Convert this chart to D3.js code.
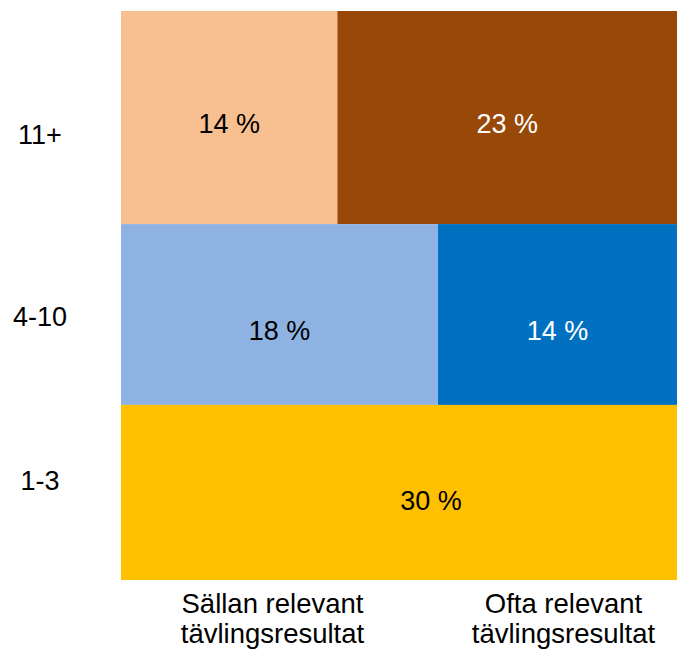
<!DOCTYPE html>
<html>
<head>
<meta charset="utf-8">
<script src="https://cdn.jsdelivr.net/npm/d3@7"></script>
<style>
  html, body { margin: 0; padding: 0; background: #fff; }
  svg { display: block; }
  text { font-family: "Liberation Sans", Arial, sans-serif; }
</style>
</head>
<body>
<svg id="chart" width="677" height="655"></svg>
<script>
// Data (shares in %, estimated from the tile sizes; labels show rounded values)
const rowLabels = ["11+", "4-10", "1-3"];
const colLabels = [["Sällan relevant", "tävlingsresultat"], ["Ofta relevant", "tävlingsresultat"]];
const sallanValues = [14.4, 17.9, 30.4];   // 1-3 row is not split (whole row)
const oftaValues = [22.6, 13.5, 0];
const rowSplit = [true, true, false];
const sallanColors = ["#F8BF91", "#8EB3E2", "#FFC000"];
const oftaColors = ["#984807", "#0070C0", "#FFC000"];
const oftaTextColors = ["#FFFFFF", "#FFFFFF", "#000000"];

const W = 677, H = 655;
const margin = { top: 11, right: 0, bottom: 75, left: 121 };
const svg = d3.select("#chart");

const rowTotals = sallanValues.map((v, i) => v + oftaValues[i]);
const grand = d3.sum(rowTotals);
const cum = [0];
rowTotals.forEach((t, i) => cum.push(cum[i] + t));

const y = d3.scaleLinear().domain([0, grand]).range([margin.top, H - margin.bottom]);
const x = d3.scaleLinear().domain([0, 1]).range([margin.left, W - margin.right]);

const cells = [];
rowLabels.forEach((r, i) => {
  const y0 = y(cum[i]), y1 = y(cum[i + 1]);
  if (rowSplit[i]) {
    const f = sallanValues[i] / rowTotals[i];
    cells.push({ row: i, x0: x(0), x1: x(f), y0, y1, v: sallanValues[i], fill: sallanColors[i], tc: "#000" });
    cells.push({ row: i, x0: x(f), x1: x(1), y0, y1, v: oftaValues[i], fill: oftaColors[i], tc: oftaTextColors[i] });
  } else {
    cells.push({ row: i, x0: x(0), x1: x(1), y0, y1, v: rowTotals[i], fill: sallanColors[i], tc: "#000" });
  }
});

svg.selectAll("rect.cell").data(cells).enter().append("rect")
  .attr("class", "cell")
  .attr("x", d => d.x0).attr("y", d => d.y0)
  .attr("width", d => d.x1 - d.x0).attr("height", d => d.y1 - d.y0)
  .attr("fill", d => d.fill);

const valNudge = [15, 25, 18];
svg.selectAll("text.val").data(cells).enter().append("text")
  .attr("class", "val")
  .attr("x", d => (d.x0 + d.x1) / 2 + (d.x1 - d.x0 > 500 ? 32 : 0))
  .attr("y", d => (d.y0 + d.y1) / 2 + valNudge[d.row])
  .attr("text-anchor", "middle")
  .attr("font-size", 27)
  .attr("fill", d => d.tc)
  .text(d => Math.round(d.v) + " %");

// Row labels
svg.selectAll("text.row").data(rowLabels).enter().append("text")
  .attr("class", "row")
  .attr("x", 40)
  .attr("y", (d, i) => (y(cum[i]) + y(cum[i + 1])) / 2 + [26, 11, -2][i])
  .attr("text-anchor", "middle")
  .attr("font-size", 27)
  .attr("fill", "#000")
  .text(d => d);

// Column labels (centered under the columns of the 4-10 row)
const splitF = sallanValues[1] / rowTotals[1];
const colCenters = [(x(0) + x(splitF)) / 2 - 7, (x(splitF) + x(1)) / 2 + 6];
colLabels.forEach((lines, j) => {
  lines.forEach((ln, k) => {
    svg.append("text")
      .attr("text-anchor", "middle")
      .attr("font-size", 27.5)
      .attr("fill", "#000")
      .attr("x", colCenters[j])
      .attr("y", 613 + k * 29.5)
      .text(ln);
  });
});
</script>
</body>
</html>
